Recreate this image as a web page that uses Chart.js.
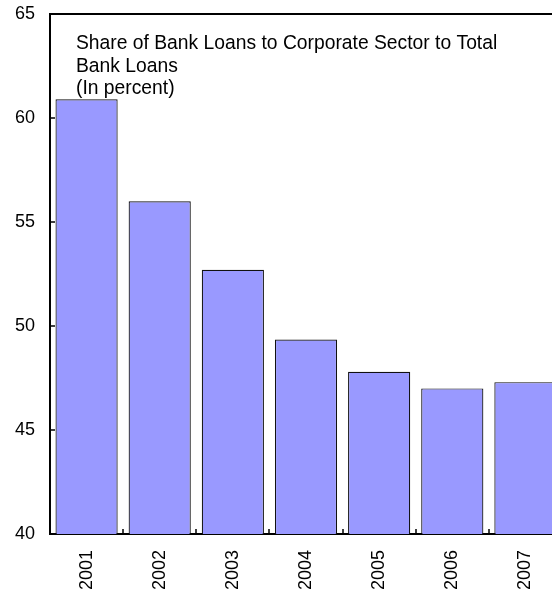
<!DOCTYPE html>
<html lang="en">
<head>
    <meta charset="UTF-8">
    <title>Share of Bank Loans to Corporate Sector</title>
    <script src="https://cdn.jsdelivr.net/npm/chart.js"></script>
    <style>
        html, body {
            margin: 0;
            padding: 0;
            background: #fff;
            overflow: hidden;
        }
        .wrap {
            width: 552px;
            height: 594px;
            overflow: hidden;
        }
        .box {
            position: relative;
            width: 562px;
            height: 594px;
        }
    </style>
</head>
<body>
    <div class="wrap">
        <div class="box">
            <canvas id="loanChart"></canvas>
        </div>
    </div>

    <script>
        const years = ['2001', '2002', '2003', '2004', '2005', '2006', '2007'];
        const corporateShare = [60.9, 56.0, 52.7, 49.35, 47.8, 47.0, 47.3];
        const titleLines = [
            'Share of Bank Loans to Corporate Sector to Total',
            'Bank Loans',
            '(In percent)'
        ];

        const fontFamily = '"Liberation Sans", Arial, sans-serif';

        // top frame line, inner tick marks and the caption inside the plot
        const frameAndCaption = {
            id: 'frameAndCaption',
            afterDraw(chart) {
                const { ctx, chartArea, scales } = chart;
                const x = scales.x, y = scales.y;
                ctx.save();
                ctx.strokeStyle = '#000';
                ctx.lineWidth = 2;
                ctx.beginPath();
                ctx.moveTo(chartArea.left - 1, chartArea.top);
                ctx.lineTo(chartArea.right, chartArea.top);
                ctx.lineTo(chartArea.right, chartArea.bottom);
                ctx.stroke();

                ctx.lineWidth = 1.5;
                ctx.beginPath();
                y.ticks.forEach(t => {
                    const py = Math.round(y.getPixelForValue(t.value));
                    ctx.moveTo(chartArea.left, py);
                    ctx.lineTo(chartArea.left + 5, py);
                });
                for (let i = 0; i < years.length - 1; i++) {
                    const px = Math.round((x.getPixelForValue(i) + x.getPixelForValue(i + 1)) / 2);
                    ctx.moveTo(px, chartArea.bottom);
                    ctx.lineTo(px, chartArea.bottom - 5);
                }
                ctx.stroke();

                ctx.fillStyle = '#000';
                ctx.font = '19.3px ' + fontFamily;
                ctx.textBaseline = 'alphabetic';
                titleLines.forEach((line, i) => {
                    ctx.fillText(line, 76, 49 + i * 22.5);
                });
                ctx.restore();
            }
        };

        const ctx = document.getElementById('loanChart').getContext('2d');
        new Chart(ctx, {
            type: 'bar',
            data: {
                labels: years,
                datasets: [{
                    data: corporateShare,
                    backgroundColor: '#9999ff',
                    borderColor: '#111',
                    borderWidth: 1.2,
                    barPercentage: 0.85,
                    categoryPercentage: 1.0
                }]
            },
            options: {
                responsive: true,
                maintainAspectRatio: false,
                animation: false,
                layout: { padding: { top: 14, left: 0, right: 0, bottom: 0 } },
                plugins: {
                    legend: { display: false },
                    tooltip: { enabled: false }
                },
                scales: {
                    x: {
                        grid: { display: false, drawTicks: false },
                        border: { display: true, color: '#000', width: 2 },
                        ticks: {
                            color: '#000',
                            font: { family: fontFamily, size: 18 },
                            minRotation: 90,
                            maxRotation: 90,
                            padding: 16
                        },
                        afterFit(scale) {
                            scale.height = 60;
                            scale.paddingLeft = 0;
                            scale.paddingRight = 0;
                        }
                    },
                    y: {
                        min: 40,
                        max: 65,
                        grid: { display: false, drawTicks: false },
                        border: { display: true, color: '#000', width: 2 },
                        ticks: {
                            stepSize: 5,
                            color: '#000',
                            font: { family: fontFamily, size: 18 },
                            padding: 15
                        },
                        afterFit(scale) {
                            scale.width = 50;
                            scale.paddingTop = 0;
                            scale.paddingBottom = 0;
                        }
                    }
                }
            },
            plugins: [frameAndCaption]
        });
    </script>
</body>
</html>
